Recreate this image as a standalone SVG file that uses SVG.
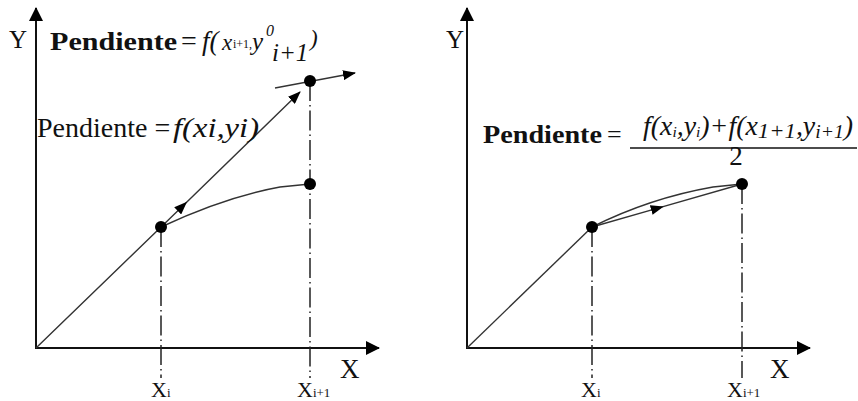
<svg xmlns="http://www.w3.org/2000/svg" width="858" height="401" viewBox="0 0 858 401" font-family="'Liberation Serif', 'DejaVu Serif', serif">
<style>
.ax{stroke:#111;stroke-width:2;fill:none}
.ln{stroke:#333;stroke-width:1.4;fill:none}
.dd{stroke:#222;stroke-width:1.5;fill:none;stroke-dasharray:20 4 1.5 4}
.pt{fill:#000}
text{fill:#111}
.it{font-style:italic}
.b{font-weight:bold}
</style>
<defs>
<marker id="axh" markerWidth="14" markerHeight="14" refX="13" refY="7" orient="auto" markerUnits="userSpaceOnUse"><path d="M0,0 L14,7 L0,14 Z" fill="#000"/></marker>
<marker id="ah" markerWidth="13" markerHeight="10" refX="12" refY="5" orient="auto" markerUnits="userSpaceOnUse"><path d="M0,0 L13,5 L0,10 Z" fill="#000"/></marker>
<marker id="am" markerWidth="13" markerHeight="10" refX="6" refY="5" orient="auto" markerUnits="userSpaceOnUse"><path d="M0,0 L13,5 L0,10 Z" fill="#000"/></marker>
</defs>
<rect width="858" height="401" fill="#fff"/>

<g id="left-panel">
  <g id="left-axes">
    <line class="ax" x1="36" y1="349" x2="36" y2="8" marker-end="url(#axh)"/>
    <line class="ax" x1="36" y1="348" x2="379" y2="348" marker-end="url(#axh)"/>
  </g>
  <g id="left-connectors">
    <path class="ln" d="M36,348 L182,206.7 L300,92" marker-mid="url(#am)" marker-end="url(#ah)"/>
    <path class="ln" d="M161,227 Q225,197 280,187 L310,184"/>
    <path class="ln" d="M275,88 L355,73" marker-end="url(#ah)"/>
    <line class="dd" x1="161" y1="227" x2="161" y2="378"/>
    <line class="dd" x1="310" y1="81" x2="310" y2="378"/>
  </g>
  <g id="left-points">
    <circle class="pt" cx="161" cy="227" r="6"/>
    <circle class="pt" cx="310" cy="184" r="6"/>
    <circle class="pt" cx="310" cy="81" r="6"/>
  </g>
  <g id="left-labels">
    <text x="9" y="48" font-size="25">Y</text>
    <text x="340" y="378" font-size="27">X</text>
    <text x="151" y="397" font-size="22">X<tspan font-size="13">i</tspan></text>
    <text x="297" y="397" font-size="22">X<tspan font-size="13">i+1</tspan></text>
    <text class="b" x="50" y="50" font-size="26" textLength="127" lengthAdjust="spacingAndGlyphs">Pendiente</text>
    <text x="181" y="50" font-size="28">=</text>
    <text class="it" x="202" y="50" font-size="27">f(</text>
    <text class="it" x="222" y="50" font-size="23">x</text>
    <text x="233" y="48" font-size="12">i+1,</text>
    <text class="it" x="252" y="50" font-size="25">y</text>
    <text class="it" x="266" y="36" font-size="16">0</text>
    <text class="it" x="272" y="61" font-size="25">i+1</text>
    <text class="it" x="310" y="46" font-size="23">)</text>
    <text x="37" y="137" font-size="28">Pendiente =</text>
    <text class="it" x="173" y="137" font-size="28" textLength="86" lengthAdjust="spacingAndGlyphs">f(xi,yi)</text>
  </g>
</g>

<g id="right-panel">
  <g id="right-axes">
    <line class="ax" x1="467" y1="349" x2="467" y2="8" marker-end="url(#axh)"/>
    <line class="ax" x1="467" y1="348" x2="810" y2="348" marker-end="url(#axh)"/>
  </g>
  <g id="right-connectors">
    <path class="ln" d="M467,348 L592,227"/>
    <path class="ln" d="M592,227 Q650,198 713,187 L742,184"/>
    <path class="ln" d="M592,227 L657,208.4 L742,184" marker-mid="url(#am)"/>
    <line class="dd" x1="592" y1="227" x2="592" y2="378"/>
    <line class="dd" x1="742" y1="184" x2="742" y2="378"/>
  </g>
  <g id="right-points">
    <circle class="pt" cx="592" cy="227" r="6"/>
    <circle class="pt" cx="742" cy="184" r="6"/>
  </g>
  <g id="right-labels">
    <text x="446" y="48" font-size="25">Y</text>
    <text x="770" y="378" font-size="27">X</text>
    <text x="581" y="397" font-size="22">X<tspan font-size="13">i</tspan></text>
    <text x="727" y="397" font-size="22">X<tspan font-size="13">i+1</tspan></text>
    <text class="b" x="483" y="143" font-size="25" textLength="119" lengthAdjust="spacingAndGlyphs">Pendiente</text>
    <text x="607" y="143" font-size="26">=</text>
    <line x1="630" y1="148" x2="857" y2="148" stroke="#111" stroke-width="1.6"/>
    <text class="it" x="643" y="135" font-size="27" textLength="210" lengthAdjust="spacingAndGlyphs">f(x<tspan font-size="15" dy="2">i</tspan><tspan dy="-2">,</tspan>y<tspan font-size="15" dy="2">i</tspan><tspan dy="-2">)+f(x</tspan><tspan font-size="22" dy="3">1+1</tspan><tspan dy="-3">,y</tspan><tspan font-size="19" dy="3">i+1</tspan><tspan dy="-3">)</tspan></text>
    <text x="736" y="165" font-size="27" text-anchor="middle">2</text>
  </g>
</g>
</svg>
